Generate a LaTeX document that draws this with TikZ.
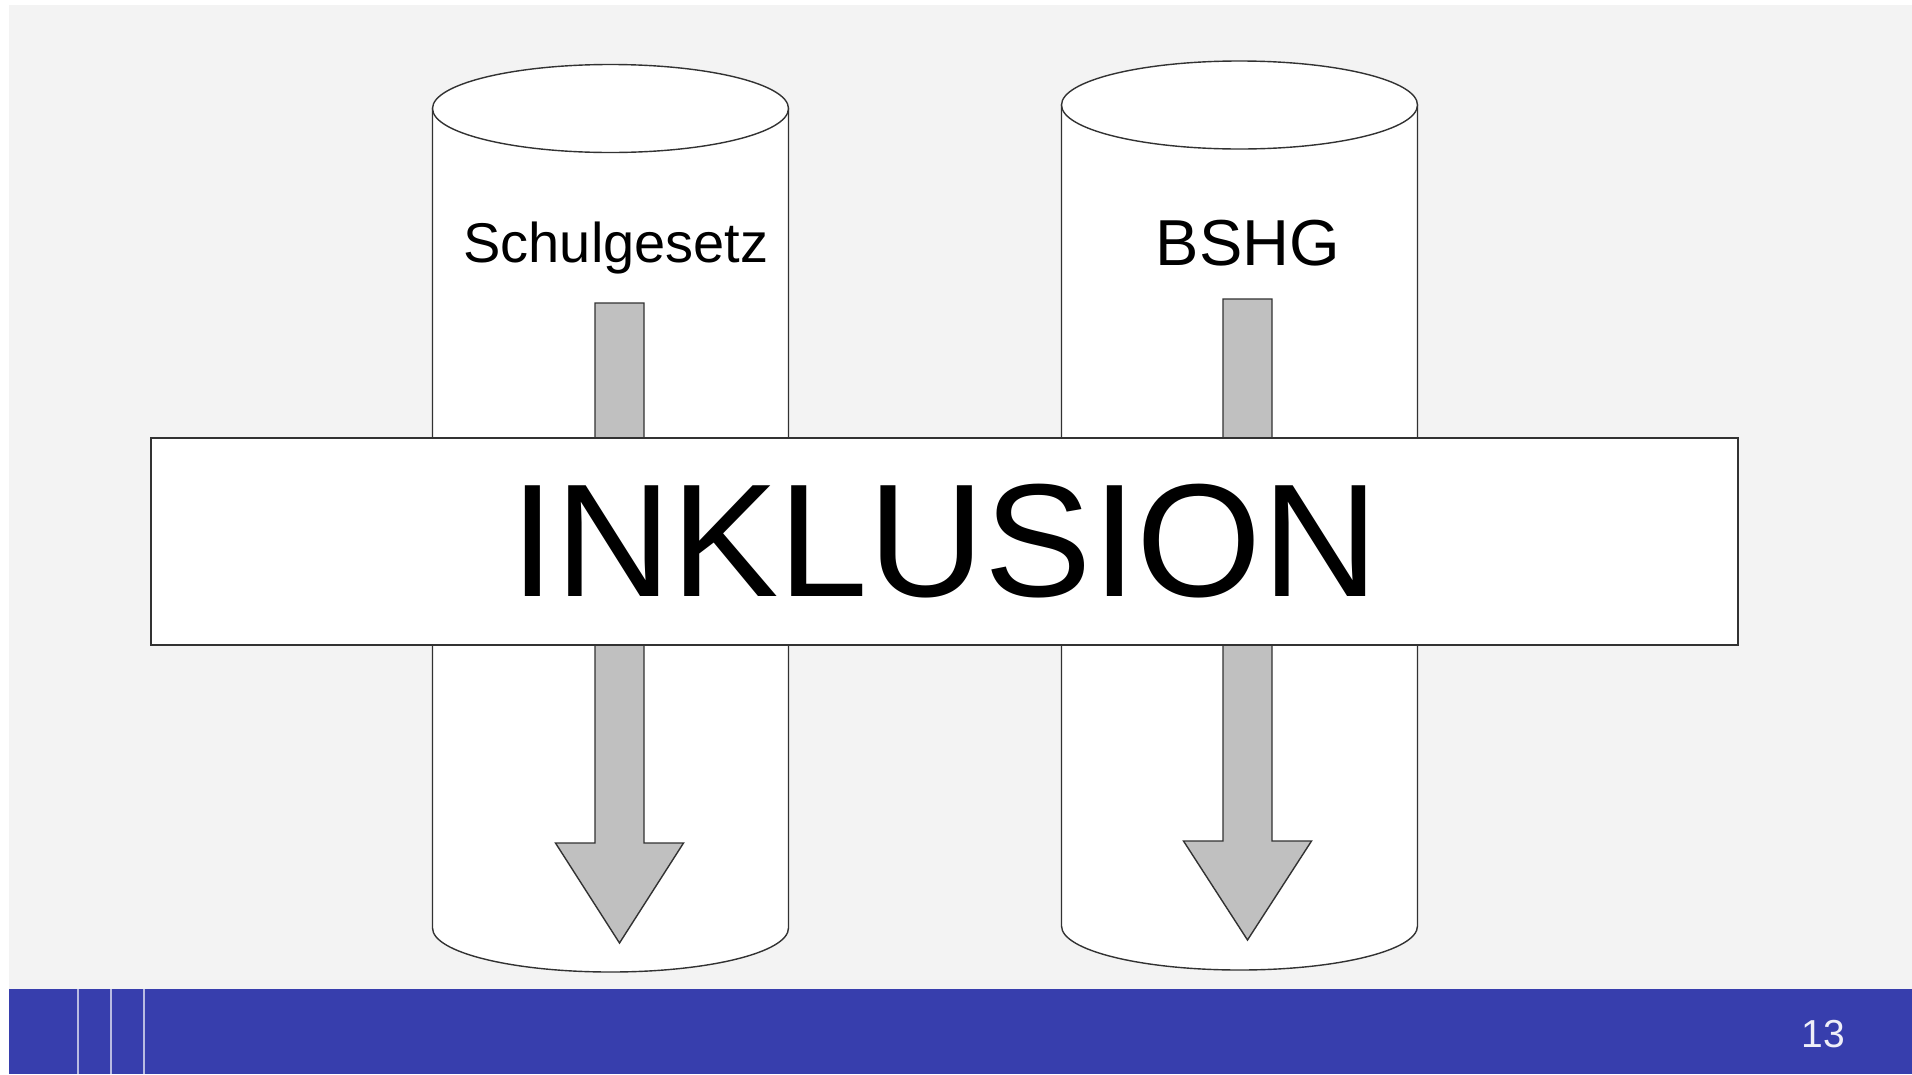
\documentclass[tikz,border=0pt]{standalone}
\usepackage{fontspec}
\setmainfont{Liberation Sans}
\definecolor{slidegray}{RGB}{243,243,243}
\definecolor{barblue}{RGB}{55,62,173}
\definecolor{arrowgray}{RGB}{192,192,192}
\definecolor{edgegray}{RGB}{50,50,50}
\tikzset{
  pillar/.style={draw=edgegray, line width=1.4pt, fill=white},
  downarrow/.style={draw=edgegray, line width=1.4pt, fill=arrowgray, line join=miter},
  barline/.style={draw=white!65!barblue, line width=1.3pt},
}
\begin{document}
\begin{tikzpicture}[x=1pt,y=-1pt]
\useasboundingbox (0,0) rectangle (1912,1074);
\fill[white] (0,0) rectangle (1912,1074);
\fill[slidegray] (9,5) rectangle (1912,989);
% the two pillars
\foreach \cx/\ct/\cb in {610.5/108.5/928, 1239.5/105/926} {
  \draw[pillar] (\cx-178,\ct) -- (\cx-178,\cb)
    arc[start angle=180, end angle=0, x radius=178, y radius=44]
    -- (\cx+178,\ct) -- cycle;
  \draw[pillar] (\cx,\ct) ellipse[x radius=178, y radius=44];
}
% arrows down
\foreach \ax/\at/\ah/\ap in {619.5/303/843/943, 1247.5/299/841/940} {
  \draw[downarrow] (\ax-24.5,\at) -- (\ax+24.5,\at) -- (\ax+24.5,\ah) -- (\ax+64,\ah)
    -- (\ax,\ap) -- (\ax-64,\ah) -- (\ax-24.5,\ah) -- cycle;
}
\node[anchor=base] (schulgesetz) at (616,262) {\fontsize{56}{60}\selectfont Schulgesetz};
\node[anchor=base] (bshg) at (1248,265) {\fontsize{65}{70}\selectfont BSHG};
\node[draw=edgegray, line width=1.4pt, fill=white, minimum width=1587pt, minimum height=207pt,
  inner sep=0pt, font=\fontsize{161}{170}\selectfont] (inklusion) at (944.5,541.5) {INKLUSION};
% footer
\fill[barblue] (9,989) rectangle (1912,1074);
\foreach \lx in {78,111,144}
  \draw[barline] (\lx,989) -- (\lx,1074);
\node[text=white!92!barblue, font=\fontsize{39}{42}\selectfont] (pagenum) at (1823,1034) {13};
\end{tikzpicture}
\end{document}
